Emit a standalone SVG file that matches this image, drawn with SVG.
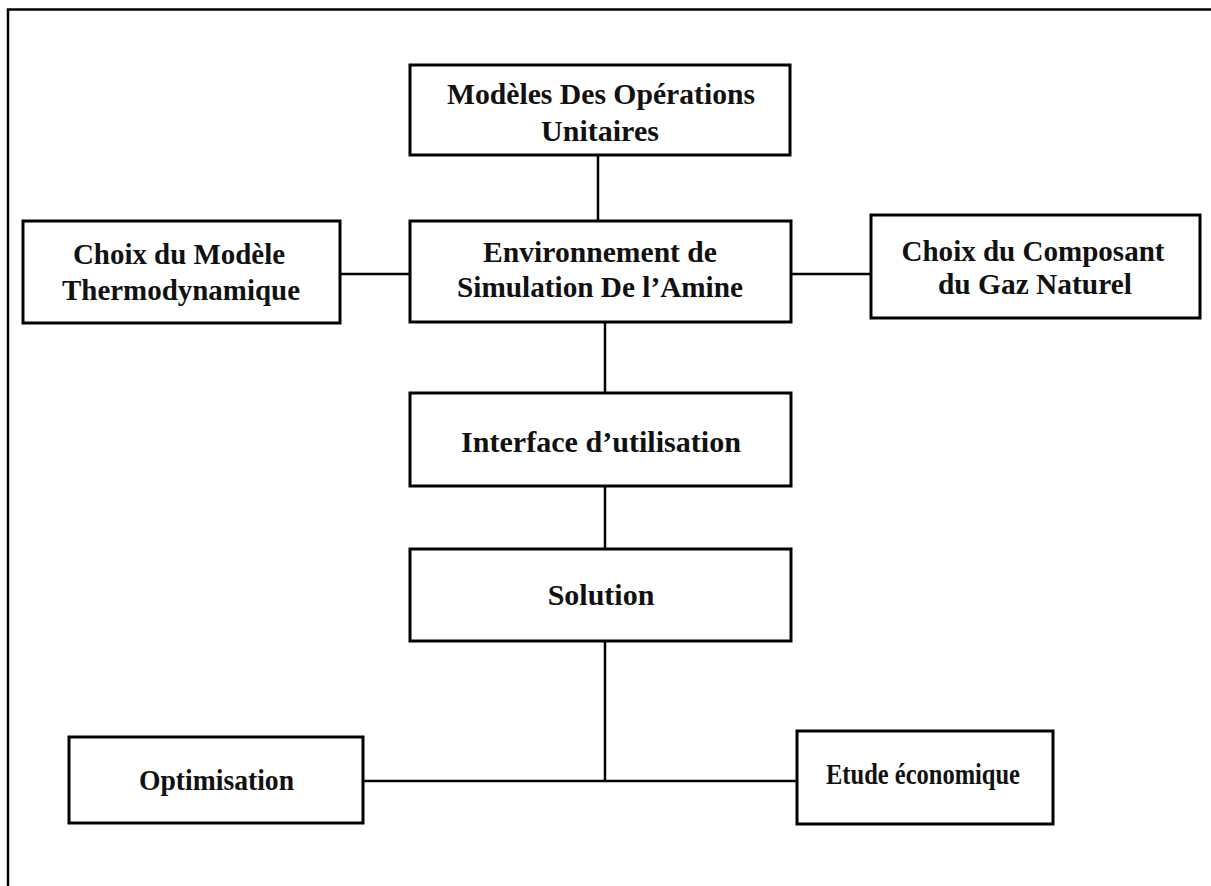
<svg xmlns="http://www.w3.org/2000/svg" width="1211" height="886" viewBox="0 0 1211 886">
<style>
.box{fill:#fff;stroke:#000;stroke-width:3}
.ln{stroke:#000;stroke-width:2.5;fill:none}
text{font-family:"Liberation Serif","Times New Roman",serif;font-weight:bold;font-size:30px;fill:#111;text-anchor:middle}
</style>
<rect width="1211" height="886" fill="#fff"/>
<path d="M8,886 V9.5 H1211" fill="none" stroke="#000" stroke-width="2.5"/>
<g id="connectors">
<line class="ln" x1="598" y1="155" x2="598" y2="221"/>
<line class="ln" x1="340" y1="274" x2="410" y2="274"/>
<line class="ln" x1="790" y1="274" x2="871" y2="274"/>
<line class="ln" x1="605" y1="322" x2="605" y2="393"/>
<line class="ln" x1="605" y1="486" x2="605" y2="549"/>
<line class="ln" x1="605" y1="641" x2="605" y2="781"/>
<line class="ln" x1="363" y1="781" x2="797" y2="781"/>
</g>
<g id="n-modeles">
<rect class="box" x="410" y="65" width="380" height="90"/>
<text x="601" y="104" textLength="308" lengthAdjust="spacingAndGlyphs">Modèles Des Opérations</text>
<text x="600" y="141">Unitaires</text>
</g>
<g id="n-thermo">
<rect class="box" x="23" y="221" width="317" height="102"/>
<text x="179" y="264" textLength="212" lengthAdjust="spacingAndGlyphs">Choix du Modèle</text>
<text x="181" y="300" textLength="238" lengthAdjust="spacingAndGlyphs">Thermodynamique</text>
</g>
<g id="n-env">
<rect class="box" x="410" y="221" width="381" height="101"/>
<text x="600" y="262" textLength="234" lengthAdjust="spacingAndGlyphs">Environnement de</text>
<text x="600" y="297" textLength="286" lengthAdjust="spacingAndGlyphs">Simulation De l’Amine</text>
</g>
<g id="n-composant">
<rect class="box" x="871" y="215" width="329" height="103"/>
<text x="1033" y="261" textLength="263" lengthAdjust="spacingAndGlyphs">Choix du Composant</text>
<text x="1035" y="294" textLength="194" lengthAdjust="spacingAndGlyphs">du Gaz Naturel</text>
</g>
<g id="n-interface">
<rect class="box" x="410" y="393" width="381" height="93"/>
<text x="601" y="452" textLength="280" lengthAdjust="spacingAndGlyphs">Interface d’utilisation</text>
</g>
<g id="n-solution">
<rect class="box" x="410" y="549" width="381" height="92"/>
<text x="601" y="605">Solution</text>
</g>
<g id="n-optimisation">
<rect class="box" x="69" y="737" width="294" height="86"/>
<text x="216.5" y="790" textLength="155" lengthAdjust="spacingAndGlyphs">Optimisation</text>
</g>
<g id="n-etude">
<rect class="box" x="797" y="731" width="256" height="93"/>
<text x="923" y="784" textLength="194" lengthAdjust="spacingAndGlyphs">Etude économique</text>
</g>
</svg>
